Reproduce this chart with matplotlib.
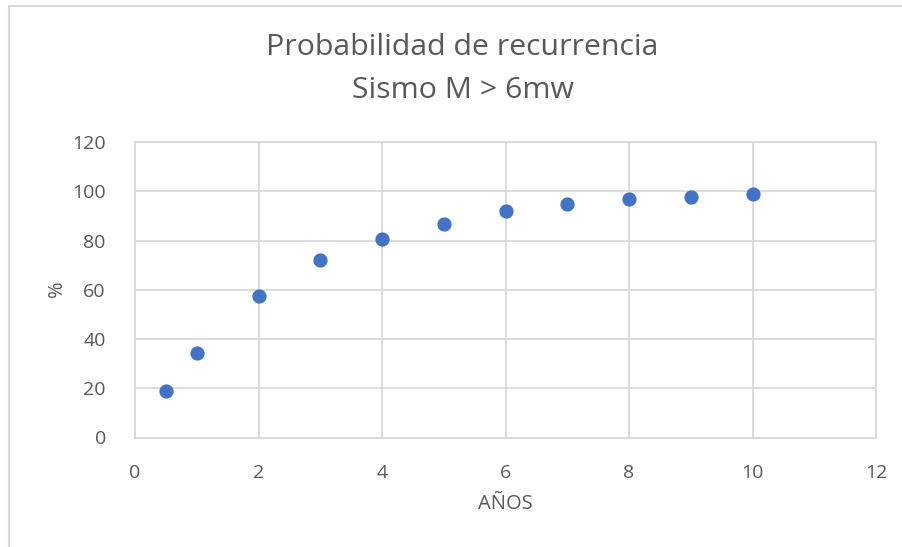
import matplotlib.pyplot as plt
from matplotlib.lines import Line2D

# ============================
# Data
# ============================
years = [0.5, 1, 2, 3, 4, 5, 6, 7, 8, 9, 10]
prob_pct = [18.8, 34.5, 57.5, 72.0, 80.8, 86.6, 92.0, 95.0, 96.9, 97.8, 98.9]

x_ticks = [0, 2, 4, 6, 8, 10, 12]
y_ticks = [0, 20, 40, 60, 80, 100, 120]

W, H = 902, 547
grid_col = "#d9d9d9"
text_col = "#595959"
plt.rcParams["font.family"] = ["Open Sans", "DejaVu Sans"]

fig = plt.figure(figsize=(W / 100, H / 100), dpi=100)

# axes box in pixels: left 135, right 876, top 142, bottom 437
ax = fig.add_axes([135 / W, 1 - 437.5 / H, (876 - 135) / W, (437.5 - 142) / H])
ax.scatter(years, prob_pct, s=105, color="#4472C4", zorder=3, linewidths=0)

ax.set_xlim(0, 12)
ax.set_ylim(0, 120)
ax.set_xticks(x_ticks)
ax.set_yticks(y_ticks)
ax.grid(True, color=grid_col, linewidth=1.3)
ax.set_axisbelow(True)
for s in ax.spines.values():
    s.set_color(grid_col)
    s.set_linewidth(1.3)
ax.tick_params(length=0, labelsize=14, labelcolor=text_col)
ax.tick_params(axis="x", pad=19)
ax.tick_params(axis="y", pad=21)

fig.text(505 / W, 1 - 504 / H, "AÑOS", ha="center", va="center",
         fontsize=14.5, color=text_col)
fig.text(57 / W, 1 - 289 / H, "%", ha="center", va="center", rotation=90,
         fontsize=14.5, color=text_col)

fig.text(462 / W, 1 - 48 / H, "Probabilidad de recurrencia", ha="center",
         va="center", fontsize=21.8, color=text_col)
fig.text(463 / W, 1 - 91 / H, "Sismo M > 6mw", ha="center",
         va="center", fontsize=21.8, color=text_col)

# light chart-area border (top and left edges visible in the crop)
fig.add_artist(Line2D([9 / W, 1], [1 - 6 / H, 1 - 6 / H], color=grid_col, linewidth=1.5))
fig.add_artist(Line2D([9 / W, 9 / W], [0, 1 - 6 / H], color=grid_col, linewidth=1.5))

fig.savefig("out.png", dpi=100)
